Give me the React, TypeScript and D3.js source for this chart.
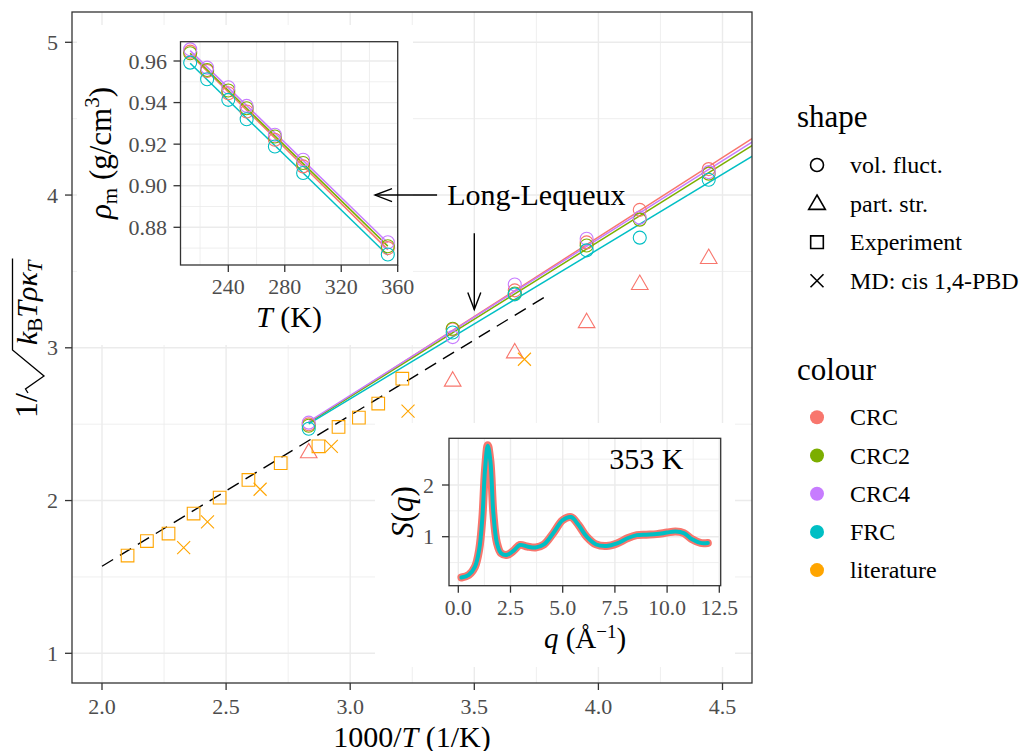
import React, { useLayoutEffect, useRef, useState } from 'react';
import * as d3 from 'd3';

const FONT = '"Liberation Serif", "Times New Roman", serif';

// ---------- data ----------
const modelNames = ['CRC', 'CRC2', 'CRC4', 'FRC'];
const modelColors = ['#F8766D', '#7CAE00', '#C77CFF', '#00BFC4'];
const literatureColor = '#FFA500';
const colourLegend = ['CRC', 'CRC2', 'CRC4', 'FRC', 'literature'];
const colourLegendColors = ['#F8766D', '#7CAE00', '#C77CFF', '#00BFC4', '#FFA500'];
const shapeLegend = ['vol. fluct.', 'part. str.', 'Experiment', 'MD: cis 1,4-PBD'];

// density inset (T in K, rho in g/cm3)
const densTemps = [213, 225, 240, 253, 273, 293, 353];
const densCRC = [0.9645, 0.9552, 0.9445, 0.9357, 0.9221, 0.9093, 0.8700];
const densCRC2 = [0.9637, 0.9557, 0.9458, 0.9373, 0.9237, 0.9109, 0.8709];
const densCRC4 = [0.9656, 0.9568, 0.9474, 0.9384, 0.9245, 0.9125, 0.8728];
const densFRC = [0.9592, 0.9512, 0.9413, 0.9320, 0.9189, 0.9061, 0.8669];

// main plot: volume fluctuation values
const mainTemps = [225, 240, 253, 273, 293, 353];
const fitTempRange = [213, 353];
const volCRC = [4.17, 3.903, 3.69, 3.376, 3.12, 2.499];
const volCRC2 = [4.14, 3.839, 3.67, 3.355, 3.125, 2.49];
const volCRC4 = [4.15, 3.852, 3.714, 3.414, 3.07, 2.51];
const volFRC = [4.10, 3.721, 3.638, 3.35, 3.10, 2.47];

// partial structure factor (CRC)
const partStrCRC = [3.59, 3.42, 3.17, 2.972, 2.787, 2.318];

// experiment (literature)
const expX = [2.103, 2.181, 2.268, 2.369, 2.474, 2.590, 2.720, 2.872, 2.953, 3.035, 3.113, 3.210];
const expY = [1.640, 1.735, 1.784, 1.915, 2.019, 2.135, 2.245, 2.355, 2.482, 2.543, 2.635, 2.798];

// MD cis 1,4-PBD (literature)
const mdX = [2.329, 2.425, 2.637, 2.924, 3.233, 3.702];
const mdY = [1.692, 1.860, 2.074, 2.355, 2.586, 2.925];

// Long-Lequeux line
const llX = [2.0, 3.8];
const llY = [1.57, 3.348];

// S(q) at 353 K
const sqQ = [0.15, 0.5, 0.8, 1.0, 1.15, 1.28, 1.41, 1.54, 1.68, 1.85, 2.05, 2.35, 2.65, 2.95, 3.3, 3.7, 4.1, 4.55, 5.0, 5.4, 5.75, 6.15, 6.6, 7.1, 7.6, 8.1, 8.55, 9.0, 9.5, 10.0, 10.4, 10.8, 11.2, 11.6, 11.95];
const sqCRC = [0.21, 0.26, 0.42, 0.75, 1.35, 2.3, 2.77, 2.45, 1.45, 0.88, 0.68, 0.65, 0.73, 0.84, 0.81, 0.79, 0.85, 1.07, 1.32, 1.38, 1.23, 1.0, 0.85, 0.82, 0.87, 0.97, 1.03, 1.04, 1.05, 1.08, 1.1, 1.07, 0.95, 0.88, 0.88];
const sqFRC = [0.21, 0.26, 0.42, 0.75, 1.35, 2.3, 2.76, 2.45, 1.45, 0.88, 0.68, 0.65, 0.73, 0.84, 0.81, 0.79, 0.85, 1.07, 1.32, 1.38, 1.23, 1.0, 0.85, 0.82, 0.87, 0.97, 1.03, 1.04, 1.05, 1.08, 1.1, 1.07, 0.95, 0.88, 0.88];

// ticks
const mainXTicks = [2.0, 2.5, 3.0, 3.5, 4.0, 4.5];
const mainXMinor = [2.25, 2.75, 3.25, 3.75, 4.25];
const mainYTicks = [1, 2, 3, 4, 5];
const mainYMinor = [1.5, 2.5, 3.5, 4.5];
const tTicks = [240, 280, 320, 360];
const tMinor = [220, 260, 300, 340];
const rhoTicks = [0.88, 0.90, 0.92, 0.94, 0.96];
const rhoMinor = [0.87, 0.89, 0.91, 0.93, 0.95];
const qTicks = [0, 2.5, 5, 7.5, 10, 12.5];
const qMinor = [1.25, 3.75, 6.25, 8.75, 11.25];
const sTicks = [1, 2];
const sMinor = [0.5, 1.5, 2.5];

// annotations
const llLabel = { x: 3.75, y: 4.0, text: 'Long-Lequeux' };
const arrowH = { x1: 3.35, x2: 3.1, y: 4.0 };
const arrowV = { x: 3.5, y1: 3.75, y2: 3.25 };
const sqLabel = { x: 9, y: 2.5, text: '353 K' };

// ---------- helpers ----------
function linFit(xs: number[], ys: number[]) {
  const mx = d3.mean(xs) as number;
  const my = d3.mean(ys) as number;
  let sxy = 0, sxx = 0;
  xs.forEach((x, i) => { sxy += (x - mx) * (ys[i] - my); sxx += (x - mx) * (x - mx); });
  const b = sxy / sxx;
  return { a: my - b * mx, b };
}

const GRID = '#EBEBEB';
const BORDER = '#333333';
const TICKTXT = '#4D4D4D';

// ---------- scales ----------
const P = { l: 72, r: 752, t: 12, b: 683 };
const xMain = d3.scaleLinear().domain([2, 4.5]).range([102, 722.5]);
const yMain = d3.scaleLinear().domain([1, 5]).range([653.3, 42.3]);

const P1 = { l: 180.5, r: 397.7, t: 41.7, b: 265 };
const xT = d3.scaleLinear().domain([240, 360]).range([228.3, 397.7]);
const yR = d3.scaleLinear().domain([0.88, 0.96]).range([227.3, 61]);

const P2 = { l: 449, r: 720.7, t: 438.3, b: 585.7 };
const xQ = d3.scaleLinear().domain([0, 12.5]).range([458.3, 719.3]);
const yS = d3.scaleLinear().domain([1, 2]).range([536.7, 485]);

function Circle({ cx, cy, color, r = 6.5, sw = 1.1 }: any) {
  return <circle cx={cx} cy={cy} r={r} fill="none" stroke={color} strokeWidth={sw} />;
}
function Tri({ cx, cy, color, sw = 1.1 }: any) {
  const p = d3.symbol().type(d3.symbolTriangle).size(120)();
  return <path d={p as string} transform={`translate(${cx},${cy + 1})`} fill="none" stroke={color} strokeWidth={sw} />;
}
function Sq({ cx, cy, color, sw = 1.1 }: any) {
  const p = d3.symbol().type(d3.symbolSquare).size(160)();
  return <path d={p as string} transform={`translate(${cx},${cy})`} fill="none" stroke={color} strokeWidth={sw} />;
}
function Cross({ cx, cy, color, sw = 1.1 }: any) {
  const s = 6.5;
  return <path d={`M${cx - s},${cy - s}L${cx + s},${cy + s}M${cx - s},${cy + s}L${cx + s},${cy - s}`} fill="none" stroke={color} strokeWidth={sw} />;
}

function YTitle() {
  const ref = useRef<SVGTextElement>(null);
  const [len, setLen] = useState(84);
  useLayoutEffect(() => {
    if (ref.current) setLen(ref.current.getComputedTextLength());
  }, []);
  const fs = 30;
  const start = 0;
  return (
    <g transform="translate(37,345) rotate(-90)" fontFamily={FONT} fontSize={fs}>
      <text x={-48} y={0} textAnchor="end" fontSize={32}>1/</text>
      <path d={`M-48,-9L-44,-11.5L-31,7L-5,-24.5L${start + len + 2},-24.5`} fill="none" stroke="black" strokeWidth={1.3} strokeLinejoin="miter" />
      <text ref={ref} x={start} y={0}>
        <tspan fontStyle="italic">k</tspan>
        <tspan fontSize={fs * 0.7} dy={5}>B</tspan>
        <tspan dy={-5} fontStyle="italic">Tρκ</tspan>
        <tspan fontSize={fs * 0.7} dy={5} fontStyle="italic">T</tspan>
      </text>
    </g>
  );
}

export default function App() {
  const models = [
    { name: modelNames[0], color: modelColors[0], dens: densCRC, vol: volCRC },
    { name: modelNames[1], color: modelColors[1], dens: densCRC2, vol: volCRC2 },
    { name: modelNames[2], color: modelColors[2], dens: densCRC4, vol: volCRC4 },
    { name: modelNames[3], color: modelColors[3], dens: densFRC, vol: volFRC },
  ];
  const mainXs = mainTemps.map((t) => 1000 / t);
  const line = d3.line<[number, number]>();
  const sqLine = d3.line<number>().x((_, i) => xQ(sqQ[i])).y((d) => yS(d)).curve(d3.curveCatmullRom.alpha(0.5));

  const arrowHead = (tipX: number, tipY: number, dx: number, dy: number) => {
    const L = 17, W = 6.5;
    const bx = tipX - dx * L, by = tipY - dy * L;
    const px = -dy, py = dx;
    return `M${bx + px * W},${by + py * W}L${tipX},${tipY}L${bx - px * W},${by - py * W}`;
  };

  return (
    <svg width={1027} height={751} style={{ position: 'absolute', left: 0, top: 0, background: 'white' }} fontFamily={FONT}>
      <defs>
        <clipPath id="mainClip"><rect x={P.l} y={P.t} width={P.r - P.l} height={P.b - P.t} /></clipPath>
        <clipPath id="c1"><rect x={P1.l} y={P1.t} width={P1.r - P1.l} height={P1.b - P1.t} /></clipPath>
        <clipPath id="c2"><rect x={P2.l} y={P2.t} width={P2.r - P2.l} height={P2.b - P2.t} /></clipPath>
      </defs>
      <rect x={0} y={0} width={1027} height={751} fill="white" />

      {/* ---------- main panel grid ---------- */}
      <g>
        {mainXMinor.map((v) => <line key={'xm' + v} x1={xMain(v)} x2={xMain(v)} y1={P.t} y2={P.b} stroke={GRID} strokeWidth={0.8} />)}
        {mainYMinor.map((v) => <line key={'ym' + v} y1={yMain(v)} y2={yMain(v)} x1={P.l} x2={P.r} stroke={GRID} strokeWidth={0.8} />)}
        {mainXTicks.map((v) => <line key={'xM' + v} x1={xMain(v)} x2={xMain(v)} y1={P.t} y2={P.b} stroke={GRID} strokeWidth={1.4} />)}
        {mainYTicks.map((v) => <line key={'yM' + v} y1={yMain(v)} y2={yMain(v)} x1={P.l} x2={P.r} stroke={GRID} strokeWidth={1.4} />)}
      </g>

      {/* ---------- main data ---------- */}
      <g clipPath="url(#mainClip)">
        <path d={line(llX.map((x, i) => [xMain(x), yMain(llY[i])]) as any) as string} fill="none" stroke="black" strokeWidth={1.4} strokeDasharray="13,8" />
        {models.map((m) => {
          const f = linFit(mainXs, m.vol);
          const xs = fitTempRange.map((t) => 1000 / t);
          return <path key={'fl' + m.name} d={line(xs.map((x) => [xMain(x), yMain(f.a + f.b * x)]) as any) as string} fill="none" stroke={m.color} strokeWidth={1.5} />;
        })}
        {models.map((m) => m.vol.map((v, i) => <Circle key={m.name + i} cx={xMain(mainXs[i])} cy={yMain(v)} color={m.color} />))}
        {partStrCRC.map((v, i) => <Tri key={'tr' + i} cx={xMain(mainXs[i])} cy={yMain(v)} color={modelColors[0]} />)}
        {expX.map((x, i) => <Sq key={'sq' + i} cx={xMain(x)} cy={yMain(expY[i])} color={literatureColor} />)}
        {mdX.map((x, i) => <Cross key={'md' + i} cx={xMain(x)} cy={yMain(mdY[i])} color={literatureColor} />)}
      </g>

      {/* ---------- main axes ---------- */}
      <rect x={P.l} y={P.t} width={P.r - P.l} height={P.b - P.t} fill="none" stroke={BORDER} strokeWidth={1.3} />
      {mainXTicks.map((v) => (
        <g key={'mxt' + v}>
          <line x1={xMain(v)} x2={xMain(v)} y1={P.b} y2={P.b + 7} stroke={BORDER} strokeWidth={1.3} />
          <text x={xMain(v)} y={713.5} textAnchor="middle" fontSize={22} fill={TICKTXT}>{v.toFixed(1)}</text>
        </g>
      ))}
      {mainYTicks.map((v) => (
        <g key={'myt' + v}>
          <line x1={P.l - 7} x2={P.l} y1={yMain(v)} y2={yMain(v)} stroke={BORDER} strokeWidth={1.3} />
          <text x={58} y={yMain(v) + 7.5} textAnchor="end" fontSize={22} fill={TICKTXT}>{v}</text>
        </g>
      ))}
      <text x={412} y={746.5} textAnchor="middle" fontSize={30}>1000/<tspan fontStyle="italic">T</tspan> (1/K)</text>
      <YTitle />

      {/* ---------- inset 1: density ---------- */}
      <rect x={77} y={25} width={336} height={320} fill="white" />
      <g>
        {tMinor.map((v) => <line key={'tm' + v} x1={xT(v)} x2={xT(v)} y1={P1.t} y2={P1.b} stroke={GRID} strokeWidth={0.8} />)}
        {rhoMinor.map((v) => <line key={'rm' + v} y1={yR(v)} y2={yR(v)} x1={P1.l} x2={P1.r} stroke={GRID} strokeWidth={0.8} />)}
        {tTicks.map((v) => <line key={'tM' + v} x1={xT(v)} x2={xT(v)} y1={P1.t} y2={P1.b} stroke={GRID} strokeWidth={1.4} />)}
        {rhoTicks.map((v) => <line key={'rM' + v} y1={yR(v)} y2={yR(v)} x1={P1.l} x2={P1.r} stroke={GRID} strokeWidth={1.4} />)}
      </g>
      <g clipPath="url(#c1)">
        {models.map((m) => {
          const f = linFit(densTemps, m.dens);
          return <path key={'dl' + m.name} d={line(fitTempRange.map((t) => [xT(t), yR(f.a + f.b * t)]) as any) as string} fill="none" stroke={m.color} strokeWidth={1.5} />;
        })}
        {models.map((m) => m.dens.map((v, i) => <Circle key={'d' + m.name + i} cx={xT(densTemps[i])} cy={yR(v)} color={m.color} />))}
      </g>
      <rect x={P1.l} y={P1.t} width={P1.r - P1.l} height={P1.b - P1.t} fill="none" stroke={BORDER} strokeWidth={1.3} />
      {tTicks.map((v) => (
        <g key={'ttk' + v}>
          <line x1={xT(v)} x2={xT(v)} y1={P1.b} y2={P1.b + 7} stroke={BORDER} strokeWidth={1.3} />
          <text x={xT(v)} y={294} textAnchor="middle" fontSize={22} fill={TICKTXT}>{v}</text>
        </g>
      ))}
      {rhoTicks.map((v) => (
        <g key={'rtk' + v}>
          <line x1={P1.l - 7} x2={P1.l} y1={yR(v)} y2={yR(v)} stroke={BORDER} strokeWidth={1.3} />
          <text x={167} y={yR(v) + 7.5} textAnchor="end" fontSize={22} fill={TICKTXT}>{v.toFixed(2)}</text>
        </g>
      ))}
      <text x={289} y={327} textAnchor="middle" fontSize={30}><tspan fontStyle="italic">T</tspan> (K)</text>
      <text transform="translate(111,153) rotate(-90)" textAnchor="middle" fontSize={31}>
        <tspan fontStyle="italic">ρ</tspan><tspan fontSize={21} dy={6}>m</tspan><tspan dy={-6}> (g/cm</tspan><tspan fontSize={21} dy={-12}>3</tspan><tspan dy={12}>)</tspan>
      </text>

      {/* ---------- inset 2: S(q) ---------- */}
      <rect x={375} y={423} width={360} height={244} fill="white" />
      <g>
        {qMinor.map((v) => <line key={'qm' + v} x1={xQ(v)} x2={xQ(v)} y1={P2.t} y2={P2.b} stroke={GRID} strokeWidth={0.8} />)}
        {sMinor.map((v) => <line key={'sm' + v} y1={yS(v)} y2={yS(v)} x1={P2.l} x2={P2.r} stroke={GRID} strokeWidth={0.8} />)}
        {qTicks.map((v) => <line key={'qM' + v} x1={xQ(v)} x2={xQ(v)} y1={P2.t} y2={P2.b} stroke={GRID} strokeWidth={1.4} />)}
        {sTicks.map((v) => <line key={'sM' + v} y1={yS(v)} y2={yS(v)} x1={P2.l} x2={P2.r} stroke={GRID} strokeWidth={1.4} />)}
      </g>
      <g clipPath="url(#c2)">
        <path d={sqLine(sqCRC) as string} fill="none" stroke={modelColors[0]} strokeWidth={8} strokeLinecap="round" strokeLinejoin="round" />
        <path d={sqLine(sqFRC) as string} fill="none" stroke={modelColors[3]} strokeWidth={4} strokeLinecap="round" strokeLinejoin="round" />
      </g>
      <text x={xQ(sqLabel.x)} y={yS(sqLabel.y) + 10} textAnchor="middle" fontSize={30}>{sqLabel.text}</text>
      <rect x={P2.l} y={P2.t} width={P2.r - P2.l} height={P2.b - P2.t} fill="none" stroke={BORDER} strokeWidth={1.3} />
      {qTicks.map((v) => (
        <g key={'qtk' + v}>
          <line x1={xQ(v)} x2={xQ(v)} y1={P2.b} y2={P2.b + 7} stroke={BORDER} strokeWidth={1.3} />
          <text x={xQ(v)} y={614.5} textAnchor="middle" fontSize={21.5} fill={TICKTXT}>{v.toFixed(1)}</text>
        </g>
      ))}
      {sTicks.map((v) => (
        <g key={'stk' + v}>
          <line x1={P2.l - 7} x2={P2.l} y1={yS(v)} y2={yS(v)} stroke={BORDER} strokeWidth={1.3} />
          <text x={434} y={yS(v) + 7.5} textAnchor="end" fontSize={22} fill={TICKTXT}>{v}</text>
        </g>
      ))}
      <text x={585} y={648} textAnchor="middle" fontSize={29}>
        <tspan fontStyle="italic">q</tspan> (Å<tspan fontSize={19} dy={-10}>−1</tspan><tspan dy={10}>)</tspan>
      </text>
      <text transform="translate(413,512) rotate(-90)" textAnchor="middle" fontSize={31}>
        <tspan fontStyle="italic">S</tspan>(<tspan fontStyle="italic">q</tspan>)
      </text>

      {/* ---------- annotations ---------- */}
      <text x={xMain(llLabel.x)} y={yMain(llLabel.y) + 10} textAnchor="middle" fontSize={30}>{llLabel.text}</text>
      <line x1={xMain(arrowH.x1)} x2={xMain(arrowH.x2)} y1={yMain(arrowH.y)} y2={yMain(arrowH.y)} stroke="black" strokeWidth={1.4} />
      <path d={arrowHead(xMain(arrowH.x2), yMain(arrowH.y), -1, 0)} fill="none" stroke="black" strokeWidth={1.4} />
      <line x1={xMain(arrowV.x)} x2={xMain(arrowV.x)} y1={yMain(arrowV.y1)} y2={yMain(arrowV.y2)} stroke="black" strokeWidth={1.4} />
      <path d={arrowHead(xMain(arrowV.x), yMain(arrowV.y2), 0, 1)} fill="none" stroke="black" strokeWidth={1.4} />

      {/* ---------- legend ---------- */}
      <text x={797} y={127} fontSize={31}>shape</text>
      {shapeLegend.map((lab, i) => {
        const cy = 165 + i * 38.6;
        const cx = 817;
        return (
          <g key={'sl' + i}>
            {i === 0 && <Circle cx={cx} cy={cy} color="black" r={6.5} sw={1.6} />}
            {i === 1 && <Tri cx={cx} cy={cy} color="black" sw={1.6} />}
            {i === 2 && <Sq cx={cx} cy={cy} color="black" sw={1.6} />}
            {i === 3 && <Cross cx={cx} cy={cy} color="black" sw={1.6} />}
            <text x={850} y={cy + 8} fontSize={24}>{lab}</text>
          </g>
        );
      })}
      <text x={797} y={380} fontSize={31}>colour</text>
      {colourLegend.map((lab, i) => {
        const cy = 417.3 + i * 38.2;
        return (
          <g key={'cl' + i}>
            <circle cx={817} cy={cy} r={7} fill={colourLegendColors[i]} />
            <text x={850} y={cy + 8} fontSize={24}>{lab}</text>
          </g>
        );
      })}
    </svg>
  );
}
